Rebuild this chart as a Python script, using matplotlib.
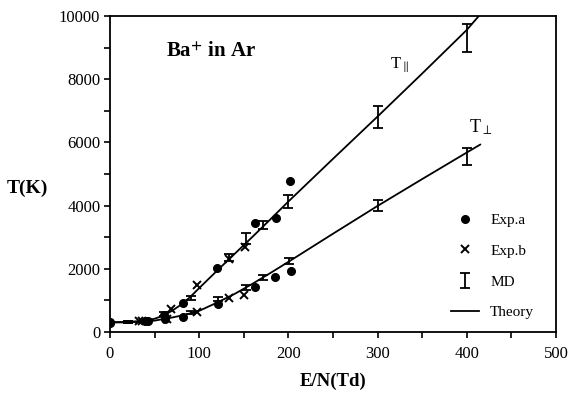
import matplotlib
matplotlib.use("Agg")
import matplotlib.pyplot as plt
from matplotlib.ticker import MultipleLocator

plt.rcParams['font.family'] = ['Liberation Serif', 'DejaVu Serif']
plt.rcParams['mathtext.fontset'] = 'stix'

# ---- data (E/N in Td, T in K) ----
# Theory curves
theory_en = [0, 20, 40, 50, 60, 70, 80, 90, 100, 120, 140, 160, 180, 200, 250, 300, 350, 400, 415]
theory_par = [310, 320, 360, 420, 520, 680, 870, 1110, 1390, 1940, 2480, 3020, 3570, 4130, 5480, 6820, 8180, 9560, 10050]
theory_perp = [300, 305, 330, 360, 410, 460, 520, 590, 670, 930, 1210, 1530, 1870, 2220, 3110, 3990, 4840, 5680, 5930]

# Exp.a (filled circles)
expa_en_par = [0, 39, 61, 82, 120, 162, 186, 202]
expa_par = [330, 350, 540, 920, 2010, 3450, 3620, 4780]
expa_en_perp = [0, 43, 62, 82, 121, 162, 185, 203]
expa_perp = [300, 340, 400, 480, 880, 1430, 1750, 1930]

# Exp.b (crosses)
expb_en_par = [33, 68, 98, 133, 151]
expb_par = [360, 720, 1490, 2300, 2700]
expb_en_perp = [36, 64, 98, 133, 150]
expb_perp = [340, 410, 640, 1070, 1170]

# MD (error bars)
md_en_par = [20, 60, 91, 133, 152, 172, 200, 300, 400]
md_par = [315, 560, 1070, 2360, 2970, 3390, 4130, 6800, 9300]
md_err_par = [40, 60, 60, 110, 170, 120, 210, 360, 450]
md_en_perp = [20, 91, 121, 153, 172, 201, 300, 400]
md_perp = [305, 620, 1035, 1414, 1731, 2250, 4000, 5550]
md_err_perp = [30, 50, 60, 80, 70, 90, 180, 270]

fig = plt.figure(figsize=(5.69, 4.0), dpi=100)
ax = fig.add_axes([110/569, 1-332/400, 446/569, 316/400])

ax.plot(theory_en, theory_par, color='black', lw=1.3, label='Theory', zorder=2)
ax.plot(theory_en, theory_perp, color='black', lw=1.3, zorder=2)

ax.plot(expa_en_par, expa_par, 'o', color='black', ms=5.5, label='Exp.a', zorder=3)
ax.plot(expa_en_perp, expa_perp, 'o', color='black', ms=5.5, zorder=3)

ax.plot(expb_en_par, expb_par, 'x', color='black', ms=6, mew=1.4, label='Exp.b', zorder=3)
ax.plot(expb_en_perp, expb_perp, 'x', color='black', ms=6, mew=1.4, zorder=3)

ax.errorbar(md_en_par, md_par, yerr=md_err_par, fmt='none', ecolor='black',
            elinewidth=1.3, capsize=3.5, capthick=1.3, label='MD', zorder=3)
ax.errorbar(md_en_perp, md_perp, yerr=md_err_perp, fmt='none', ecolor='black',
            elinewidth=1.3, capsize=3.5, capthick=1.3, zorder=3)

ax.set_xlim(0, 500)
ax.set_ylim(0, 10000)
ax.xaxis.set_major_locator(MultipleLocator(100))
ax.xaxis.set_minor_locator(MultipleLocator(50))
ax.yaxis.set_major_locator(MultipleLocator(2000))
ax.yaxis.set_minor_locator(MultipleLocator(1000))
ax.tick_params(which='both', direction='out', length=4, width=1.2, labelsize=12, colors='black')
ax.tick_params(axis='x', pad=6)
ax.tick_params(axis='y', pad=3)
for s in ax.spines.values():
    s.set_linewidth(1.3)

ax.set_xlabel('E/N(Td)', fontsize=13.5, fontweight='bold', labelpad=8)
ax.set_ylabel('T(K)', fontsize=14, fontweight='bold', rotation=0, labelpad=0)
ax.yaxis.set_label_coords(-0.185, 0.427)

ax.text(0.125, 0.885, r'Ba$^{\mathbf{+}}$ in Ar', transform=ax.transAxes, fontsize=15,
        fontweight='bold', va='center', ha='left')
ax.text(0.628, 0.845, r'T$_{\parallel}$', transform=ax.transAxes, fontsize=12, va='center')
ax.text(0.805, 0.648, r'T$_{\perp}$', transform=ax.transAxes, fontsize=13, va='center')

handles, labels = ax.get_legend_handles_labels()
order = ['Exp.a', 'Exp.b', 'MD', 'Theory']
hmap = dict(zip(labels, handles))
ax.legend([hmap[k] for k in order], order, loc='lower left',
          bbox_to_anchor=(0.765, 0.04), frameon=False, fontsize=11,
          labelspacing=1.12, handlelength=1.8, handletextpad=0.75,
          borderpad=0, borderaxespad=0)

fig.savefig('out.png', dpi=100)
